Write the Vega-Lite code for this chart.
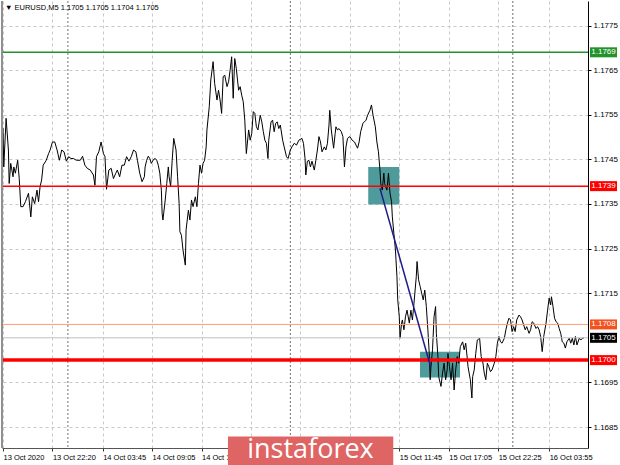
{
  "$schema": "https://vega.github.io/schema/vega-lite/v6.json",
  "width": 586,
  "height": 447,
  "autosize": {"type": "none"},
  "padding": {"left": 2, "top": 1, "right": 32, "bottom": 17},
  "background": "#ffffff",
  "config": {"view": {"stroke": null}},
  "datasets": {
    "price": [
      {"t":"2020-10-13 16:55","p":1.17523},{"t":"2020-10-13 17:00","p":1.17519},{"t":"2020-10-13 17:05","p":1.17433},{"t":"2020-10-13 17:20","p":1.17542},{"t":"2020-10-13 17:35","p":1.17471},{"t":"2020-10-13 17:40","p":1.17396},{"t":"2020-10-13 17:50","p":1.17441},{"t":"2020-10-13 18:05","p":1.17411},{"t":"2020-10-13 18:10","p":1.17433},{"t":"2020-10-13 18:20","p":1.17419},{"t":"2020-10-13 18:35","p":1.17448},{"t":"2020-10-13 18:45","p":1.17407},{"t":"2020-10-13 18:55","p":1.17344},{"t":"2020-10-13 19:10","p":1.17344},{"t":"2020-10-13 19:25","p":1.17355},{"t":"2020-10-13 19:45","p":1.17374},{"t":"2020-10-13 20:00","p":1.17321},{"t":"2020-10-13 20:10","p":1.17366},{"t":"2020-10-13 20:25","p":1.17351},{"t":"2020-10-13 20:40","p":1.17381},{"t":"2020-10-13 20:50","p":1.17355},{"t":"2020-10-13 21:00","p":1.17389},{"t":"2020-10-13 21:10","p":1.17404},{"t":"2020-10-13 21:20","p":1.17437},{"t":"2020-10-13 21:40","p":1.17448},{"t":"2020-10-13 21:55","p":1.17463},{"t":"2020-10-13 22:05","p":1.17471},{"t":"2020-10-13 22:20","p":1.17489},{"t":"2020-10-13 22:35","p":1.17489},{"t":"2020-10-13 22:50","p":1.17471},{"t":"2020-10-13 23:05","p":1.17448},{"t":"2020-10-13 23:20","p":1.17471},{"t":"2020-10-13 23:35","p":1.17467},{"t":"2020-10-13 23:50","p":1.17446},
      {"t":"2020-10-14 00:05","p":1.17456},{"t":"2020-10-14 00:20","p":1.17452},{"t":"2020-10-14 00:35","p":1.17452},{"t":"2020-10-14 00:55","p":1.17448},{"t":"2020-10-14 01:20","p":1.17448},{"t":"2020-10-14 01:35","p":1.17457},{"t":"2020-10-14 01:50","p":1.17437},{"t":"2020-10-14 02:05","p":1.1743},{"t":"2020-10-14 02:25","p":1.17426},{"t":"2020-10-14 02:45","p":1.17415},{"t":"2020-10-14 02:55","p":1.17392},{"t":"2020-10-14 03:05","p":1.17456},{"t":"2020-10-14 03:20","p":1.17467},{"t":"2020-10-14 03:35","p":1.17489},{"t":"2020-10-14 03:50","p":1.17463},{"t":"2020-10-14 04:00","p":1.17456},{"t":"2020-10-14 04:10","p":1.17383},{"t":"2020-10-14 04:25","p":1.17426},{"t":"2020-10-14 04:40","p":1.1743},{"t":"2020-10-14 04:55","p":1.17407},{"t":"2020-10-14 05:10","p":1.17419},{"t":"2020-10-14 05:20","p":1.17426},{"t":"2020-10-14 05:35","p":1.17411},{"t":"2020-10-14 05:50","p":1.17437},{"t":"2020-10-14 06:05","p":1.17437},{"t":"2020-10-14 06:20","p":1.17456},{"t":"2020-10-14 06:35","p":1.17446},{"t":"2020-10-14 06:50","p":1.17456},{"t":"2020-10-14 07:05","p":1.17471},{"t":"2020-10-14 07:20","p":1.17467},{"t":"2020-10-14 07:30","p":1.17448},{"t":"2020-10-14 07:45","p":1.17419},{"t":"2020-10-14 08:00","p":1.174},{"t":"2020-10-14 08:15","p":1.17411},{"t":"2020-10-14 08:20","p":1.17433},{"t":"2020-10-14 08:30","p":1.17448},{"t":"2020-10-14 08:40","p":1.17457},{"t":"2020-10-14 08:50","p":1.17452},{"t":"2020-10-14 09:00","p":1.17441},{"t":"2020-10-14 09:15","p":1.1745},{"t":"2020-10-14 09:25","p":1.17452},{"t":"2020-10-14 09:35","p":1.17448},{"t":"2020-10-14 09:45","p":1.17437},{"t":"2020-10-14 09:55","p":1.17419},{"t":"2020-10-14 10:05","p":1.17381},{"t":"2020-10-14 10:10","p":1.17329},{"t":"2020-10-14 10:15","p":1.17314},{"t":"2020-10-14 10:30","p":1.17359},{"t":"2020-10-14 10:40","p":1.17396},{"t":"2020-10-14 10:50","p":1.17433},{"t":"2020-10-14 10:55","p":1.17411},{"t":"2020-10-14 11:05","p":1.17389},{"t":"2020-10-14 11:15","p":1.17448},{"t":"2020-10-14 11:25","p":1.17497},{"t":"2020-10-14 11:40","p":1.17471},{"t":"2020-10-14 11:50","p":1.17411},{"t":"2020-10-14 12:00","p":1.17351},{"t":"2020-10-14 12:05","p":1.17288},{"t":"2020-10-14 12:15","p":1.1728},{"t":"2020-10-14 12:25","p":1.17247},{"t":"2020-10-14 12:40","p":1.17213},{"t":"2020-10-14 12:45","p":1.17292},{"t":"2020-10-14 13:00","p":1.17336},{"t":"2020-10-14 13:10","p":1.17314},{"t":"2020-10-14 13:20","p":1.17359},{"t":"2020-10-14 13:30","p":1.17344},{"t":"2020-10-14 13:45","p":1.17366},{"t":"2020-10-14 13:55","p":1.17344},{"t":"2020-10-14 14:05","p":1.17396},{"t":"2020-10-14 14:15","p":1.17437},{"t":"2020-10-14 14:25","p":1.17419},{"t":"2020-10-14 14:35","p":1.17441},{"t":"2020-10-14 14:45","p":1.17448},{"t":"2020-10-14 14:55","p":1.17478},{"t":"2020-10-14 15:00","p":1.17516},{"t":"2020-10-14 15:15","p":1.17568},{"t":"2020-10-14 15:25","p":1.17628},{"t":"2020-10-14 15:40","p":1.17669},{"t":"2020-10-14 15:50","p":1.1762},{"t":"2020-10-14 16:05","p":1.17583},{"t":"2020-10-14 16:15","p":1.17605},{"t":"2020-10-14 16:25","p":1.17583},{"t":"2020-10-14 16:35","p":1.17553},{"t":"2020-10-14 16:45","p":1.17635},{"t":"2020-10-14 16:55","p":1.17639},{"t":"2020-10-14 17:10","p":1.17613},{"t":"2020-10-14 17:20","p":1.17624},{"t":"2020-10-14 17:30","p":1.1765},{"t":"2020-10-14 17:40","p":1.1768},{"t":"2020-10-14 17:50","p":1.17587},{"t":"2020-10-14 18:00","p":1.17676},{"t":"2020-10-14 18:10","p":1.17654},{"t":"2020-10-14 18:25","p":1.17605},{"t":"2020-10-14 18:35","p":1.17613},{"t":"2020-10-14 18:45","p":1.17594},{"t":"2020-10-14 18:55","p":1.17579},{"t":"2020-10-14 19:05","p":1.17538},{"t":"2020-10-14 19:15","p":1.17463},{"t":"2020-10-14 19:30","p":1.17516},{"t":"2020-10-14 19:40","p":1.17493},{"t":"2020-10-14 19:50","p":1.17508},{"t":"2020-10-14 20:00","p":1.17557},{"t":"2020-10-14 20:10","p":1.17553},{"t":"2020-10-14 20:20","p":1.17523},{"t":"2020-10-14 20:30","p":1.17516},{"t":"2020-10-14 20:45","p":1.17549},{"t":"2020-10-14 20:55","p":1.17534},{"t":"2020-10-14 21:05","p":1.17512},{"t":"2020-10-14 21:15","p":1.17493},{"t":"2020-10-14 21:25","p":1.17486},{"t":"2020-10-14 21:35","p":1.17452},{"t":"2020-10-14 21:40","p":1.17493},{"t":"2020-10-14 21:55","p":1.17534},{"t":"2020-10-14 22:05","p":1.17538},{"t":"2020-10-14 22:15","p":1.17512},{"t":"2020-10-14 22:25","p":1.17531},{"t":"2020-10-14 22:35","p":1.17534},{"t":"2020-10-14 22:45","p":1.17519},{"t":"2020-10-14 22:55","p":1.17527},{"t":"2020-10-14 23:10","p":1.17493},{"t":"2020-10-14 23:20","p":1.17478},{"t":"2020-10-14 23:35","p":1.17456},{"t":"2020-10-14 23:45","p":1.17452},
      {"t":"2020-10-15 00:00","p":1.17471},{"t":"2020-10-15 00:10","p":1.17478},{"t":"2020-10-15 00:25","p":1.17486},{"t":"2020-10-15 00:40","p":1.17482},{"t":"2020-10-15 00:55","p":1.17493},{"t":"2020-10-15 01:15","p":1.17497},{"t":"2020-10-15 01:25","p":1.17486},{"t":"2020-10-15 01:35","p":1.17452},{"t":"2020-10-15 01:40","p":1.17415},{"t":"2020-10-15 01:50","p":1.17446},{"t":"2020-10-15 02:00","p":1.17448},{"t":"2020-10-15 02:10","p":1.17433},{"t":"2020-10-15 02:20","p":1.17446},{"t":"2020-10-15 02:35","p":1.17426},{"t":"2020-10-15 02:45","p":1.17448},{"t":"2020-10-15 02:55","p":1.17471},{"t":"2020-10-15 03:05","p":1.17501},{"t":"2020-10-15 03:15","p":1.17489},{"t":"2020-10-15 03:25","p":1.17467},{"t":"2020-10-15 03:40","p":1.17478},{"t":"2020-10-15 03:50","p":1.17471},{"t":"2020-10-15 04:00","p":1.17486},{"t":"2020-10-15 04:10","p":1.17527},{"t":"2020-10-15 04:15","p":1.1756},{"t":"2020-10-15 04:25","p":1.17516},{"t":"2020-10-15 04:40","p":1.17475},{"t":"2020-10-15 04:50","p":1.17508},{"t":"2020-10-15 04:55","p":1.17523},{"t":"2020-10-15 05:05","p":1.17516},{"t":"2020-10-15 05:15","p":1.17519},{"t":"2020-10-15 05:30","p":1.17512},{"t":"2020-10-15 05:40","p":1.17501},{"t":"2020-10-15 05:50","p":1.17433},{"t":"2020-10-15 06:00","p":1.17478},{"t":"2020-10-15 06:10","p":1.17497},{"t":"2020-10-15 06:25","p":1.17501},{"t":"2020-10-15 06:40","p":1.17493},{"t":"2020-10-15 06:55","p":1.17489},{"t":"2020-10-15 07:05","p":1.17482},{"t":"2020-10-15 07:15","p":1.17475},{"t":"2020-10-15 07:25","p":1.17489},{"t":"2020-10-15 07:35","p":1.17512},{"t":"2020-10-15 07:50","p":1.17531},{"t":"2020-10-15 08:10","p":1.17538},{"t":"2020-10-15 08:20","p":1.17549},{"t":"2020-10-15 08:35","p":1.1756},{"t":"2020-10-15 08:45","p":1.17572},{"t":"2020-10-15 08:55","p":1.17549},{"t":"2020-10-15 09:10","p":1.17523},{"t":"2020-10-15 09:20","p":1.17489},{"t":"2020-10-15 09:30","p":1.17467},{"t":"2020-10-15 09:40","p":1.17426},{"t":"2020-10-15 09:45","p":1.17396},{"t":"2020-10-15 09:55","p":1.17381},{"t":"2020-10-15 10:05","p":1.17419},{"t":"2020-10-15 10:10","p":1.17396},{"t":"2020-10-15 10:25","p":1.17381},{"t":"2020-10-15 10:35","p":1.17419},{"t":"2020-10-15 10:45","p":1.17374},{"t":"2020-10-15 10:55","p":1.17355},{"t":"2020-10-15 11:00","p":1.17321},{"t":"2020-10-15 11:10","p":1.17284},{"t":"2020-10-15 11:20","p":1.17247},{"t":"2020-10-15 11:30","p":1.17187},{"t":"2020-10-15 11:35","p":1.17135},{"t":"2020-10-15 11:45","p":1.17097},{"t":"2020-10-15 11:50","p":1.17049},{"t":"2020-10-15 12:00","p":1.17083},{"t":"2020-10-15 12:05","p":1.1709},{"t":"2020-10-15 12:15","p":1.17068},{"t":"2020-10-15 12:25","p":1.17097},{"t":"2020-10-15 12:35","p":1.17112},{"t":"2020-10-15 12:50","p":1.17083},{"t":"2020-10-15 13:00","p":1.17112},{"t":"2020-10-15 13:10","p":1.1709},{"t":"2020-10-15 13:20","p":1.17127},{"t":"2020-10-15 13:35","p":1.17187},{"t":"2020-10-15 13:40","p":1.17221},{"t":"2020-10-15 13:50","p":1.1718},{"t":"2020-10-15 14:00","p":1.17165},{"t":"2020-10-15 14:10","p":1.1715},{"t":"2020-10-15 14:20","p":1.17135},{"t":"2020-10-15 14:30","p":1.17157},{"t":"2020-10-15 14:40","p":1.1712},{"t":"2020-10-15 14:50","p":1.17068},{"t":"2020-10-15 15:00","p":1.17008},{"t":"2020-10-15 15:05","p":1.16956},{"t":"2020-10-15 15:10","p":1.16985},{"t":"2020-10-15 15:20","p":1.17023},{"t":"2020-10-15 15:30","p":1.17097},{"t":"2020-10-15 15:40","p":1.1712},{"t":"2020-10-15 15:45","p":1.1706},{"t":"2020-10-15 15:55","p":1.17008},{"t":"2020-10-15 16:00","p":1.16963},{"t":"2020-10-15 16:15","p":1.16941},{"t":"2020-10-15 16:25","p":1.16971},{"t":"2020-10-15 16:35","p":1.16993},{"t":"2020-10-15 16:45","p":1.16956},{"t":"2020-10-15 16:55","p":1.16978},{"t":"2020-10-15 17:00","p":1.17015},{"t":"2020-10-15 17:10","p":1.16985},{"t":"2020-10-15 17:20","p":1.16956},{"t":"2020-10-15 17:30","p":1.16993},{"t":"2020-10-15 17:40","p":1.16933},{"t":"2020-10-15 17:50","p":1.16978},{"t":"2020-10-15 18:00","p":1.17008},{"t":"2020-10-15 18:10","p":1.16993},{"t":"2020-10-15 18:20","p":1.1703},{"t":"2020-10-15 18:35","p":1.17041},{"t":"2020-10-15 18:45","p":1.17023},{"t":"2020-10-15 18:55","p":1.17038},{"t":"2020-10-15 19:05","p":1.17004},{"t":"2020-10-15 19:10","p":1.16985},{"t":"2020-10-15 19:25","p":1.16956},{"t":"2020-10-15 19:35","p":1.16915},{"t":"2020-10-15 19:40","p":1.16963},{"t":"2020-10-15 19:50","p":1.16978},{"t":"2020-10-15 20:00","p":1.17015},{"t":"2020-10-15 20:10","p":1.17045},{"t":"2020-10-15 20:25","p":1.17049},{"t":"2020-10-15 20:35","p":1.17008},{"t":"2020-10-15 20:45","p":1.16997},{"t":"2020-10-15 20:55","p":1.16971},{"t":"2020-10-15 21:05","p":1.16956},{"t":"2020-10-15 21:15","p":1.16993},{"t":"2020-10-15 21:25","p":1.16985},{"t":"2020-10-15 21:35","p":1.16974},{"t":"2020-10-15 21:45","p":1.16978},{"t":"2020-10-15 22:00","p":1.16993},{"t":"2020-10-15 22:10","p":1.17008},{"t":"2020-10-15 22:20","p":1.17038},{"t":"2020-10-15 22:30","p":1.17053},{"t":"2020-10-15 22:40","p":1.17041},{"t":"2020-10-15 22:50","p":1.17038},{"t":"2020-10-15 23:05","p":1.17049},{"t":"2020-10-15 23:15","p":1.17068},{"t":"2020-10-15 23:25","p":1.17083},{"t":"2020-10-15 23:35","p":1.17094},{"t":"2020-10-15 23:45","p":1.1709},{"t":"2020-10-15 23:55","p":1.17064},
      {"t":"2020-10-16 00:05","p":1.17075},{"t":"2020-10-16 00:15","p":1.17064},{"t":"2020-10-16 00:25","p":1.1709},{"t":"2020-10-16 00:40","p":1.17101},{"t":"2020-10-16 00:50","p":1.17097},{"t":"2020-10-16 01:00","p":1.1709},{"t":"2020-10-16 01:10","p":1.17079},{"t":"2020-10-16 01:20","p":1.17068},{"t":"2020-10-16 01:30","p":1.17075},{"t":"2020-10-16 01:45","p":1.1706},{"t":"2020-10-16 01:55","p":1.17068},{"t":"2020-10-16 02:05","p":1.17086},{"t":"2020-10-16 02:15","p":1.17083},{"t":"2020-10-16 02:30","p":1.17071},{"t":"2020-10-16 02:40","p":1.17075},{"t":"2020-10-16 02:50","p":1.17068},{"t":"2020-10-16 03:00","p":1.17053},{"t":"2020-10-16 03:10","p":1.17019},{"t":"2020-10-16 03:20","p":1.17053},{"t":"2020-10-16 03:35","p":1.17083},{"t":"2020-10-16 03:45","p":1.17112},{"t":"2020-10-16 03:55","p":1.17139},{"t":"2020-10-16 04:05","p":1.17124},{"t":"2020-10-16 04:10","p":1.17142},{"t":"2020-10-16 04:20","p":1.1712},{"t":"2020-10-16 04:30","p":1.17094},{"t":"2020-10-16 04:40","p":1.17086},{"t":"2020-10-16 04:50","p":1.17083},{"t":"2020-10-16 05:00","p":1.17071},{"t":"2020-10-16 05:10","p":1.1706},{"t":"2020-10-16 05:20","p":1.17041},{"t":"2020-10-16 05:30","p":1.17038},{"t":"2020-10-16 05:40","p":1.17027},{"t":"2020-10-16 05:50","p":1.17041},{"t":"2020-10-16 06:05","p":1.17049},{"t":"2020-10-16 06:15","p":1.17038},{"t":"2020-10-16 06:25","p":1.17049},{"t":"2020-10-16 06:35","p":1.17034},{"t":"2020-10-16 06:45","p":1.17053},{"t":"2020-10-16 06:55","p":1.17034},{"t":"2020-10-16 07:10","p":1.17049},{"t":"2020-10-16 07:20","p":1.17045},{"t":"2020-10-16 07:30","p":1.17049},{"t":"2020-10-16 07:40","p":1.1705}
    ],
    "boxes": [
      {"start":"2020-10-15 08:24","end":"2020-10-15 11:45","top":1.17433,"bottom":1.17349},
      {"start":"2020-10-15 13:59","end":"2020-10-15 18:18","top":1.17019,"bottom":1.16961}
    ],
    "trend": [
      {"t":"2020-10-15 09:40","p":1.17385},
      {"t":"2020-10-15 15:08","p":1.16985}
    ],
    "separators": [
      {"t":"2020-10-14 00:00"},{"t":"2020-10-15 00:00"},{"t":"2020-10-16 00:00"}
    ],
    "tags": [
      {"p":1.1769,"label":"1.1769","kind":"resistance"},
      {"p":1.1739,"label":"1.1739","kind":"entry"},
      {"p":1.1708,"label":"1.1708","kind":"target"},
      {"p":1.1705,"label":"1.1705","kind":"bid"},
      {"p":1.17,"label":"1.1700","kind":"support"}
    ]
  },
  "layer": [
    {
      "data": {"name": "boxes"},
      "mark": {"type": "rect", "color": "#4f9a9a"},
      "encoding": {
        "x": {"field": "start", "type": "temporal"},
        "x2": {"field": "end"},
        "y": {"field": "top", "type": "quantitative"},
        "y2": {"field": "bottom"}
      }
    },
    {
      "data": {"name": "separators"},
      "mark": {"type": "rule", "color": "#707070", "strokeWidth": 1, "strokeDash": [2, 2]},
      "encoding": {"x": {"field": "t", "type": "temporal"}}
    },
    {
      "data": {"name": "price"},
      "mark": {"type": "line", "color": "#000000", "strokeWidth": 1},
      "encoding": {
        "x": {
          "field": "t", "type": "temporal",
          "scale": {"domain": [{"year": 2020, "month": 10, "date": 13, "hours": 16, "minutes": 53, "seconds": 30}, {"year": 2020, "month": 10, "date": 16, "hours": 8, "minutes": 6, "seconds": 30}]},
          "axis": {
            "title": null,
            "values": [
              {"year": 2020, "month": 10, "date": 13, "hours": 17, "minutes": 0, "seconds": 0},
              {"year": 2020, "month": 10, "date": 13, "hours": 19, "minutes": 40, "seconds": 30},
              {"year": 2020, "month": 10, "date": 13, "hours": 22, "minutes": 20, "seconds": 0},
              {"year": 2020, "month": 10, "date": 14, "hours": 1, "minutes": 2, "seconds": 30},
              {"year": 2020, "month": 10, "date": 14, "hours": 3, "minutes": 45, "seconds": 0},
              {"year": 2020, "month": 10, "date": 14, "hours": 6, "minutes": 25, "seconds": 30},
              {"year": 2020, "month": 10, "date": 14, "hours": 9, "minutes": 5, "seconds": 0},
              {"year": 2020, "month": 10, "date": 14, "hours": 11, "minutes": 45, "seconds": 30},
              {"year": 2020, "month": 10, "date": 14, "hours": 14, "minutes": 25, "seconds": 0},
              {"year": 2020, "month": 10, "date": 14, "hours": 17, "minutes": 5, "seconds": 30},
              {"year": 2020, "month": 10, "date": 14, "hours": 19, "minutes": 45, "seconds": 15},
              {"year": 2020, "month": 10, "date": 14, "hours": 22, "minutes": 25, "seconds": 30},
              {"year": 2020, "month": 10, "date": 15, "hours": 1, "minutes": 5, "seconds": 15},
              {"year": 2020, "month": 10, "date": 15, "hours": 3, "minutes": 45, "seconds": 30},
              {"year": 2020, "month": 10, "date": 15, "hours": 6, "minutes": 25, "seconds": 15},
              {"year": 2020, "month": 10, "date": 15, "hours": 9, "minutes": 5, "seconds": 30},
              {"year": 2020, "month": 10, "date": 15, "hours": 11, "minutes": 45, "seconds": 0},
              {"year": 2020, "month": 10, "date": 15, "hours": 14, "minutes": 25, "seconds": 30},
              {"year": 2020, "month": 10, "date": 15, "hours": 17, "minutes": 5, "seconds": 0},
              {"year": 2020, "month": 10, "date": 15, "hours": 19, "minutes": 45, "seconds": 30},
              {"year": 2020, "month": 10, "date": 15, "hours": 22, "minutes": 25, "seconds": 0},
              {"year": 2020, "month": 10, "date": 16, "hours": 1, "minutes": 10, "seconds": 30},
              {"year": 2020, "month": 10, "date": 16, "hours": 3, "minutes": 55, "seconds": 0},
              {"year": 2020, "month": 10, "date": 16, "hours": 6, "minutes": 35, "seconds": 30}
            ],
            "labelExpr": "seconds(datum.value) != 0 ? '' : ((date(datum.value) == 13 && hours(datum.value) == 17) ? '13 Oct 2020' : timeFormat(datum.value, '%d %b %H:%M'))",
            "labelAlign": "left", "labelBaseline": "top", "labelPadding": 2,
            "labelFont": "Liberation Sans", "labelFontSize": 7.5, "labelColor": "#000000",
            "labelOverlap": false, "labelFlush": false,
            "tickSize": 3, "tickColor": "#333333",
            "tickOpacity": {"condition": {"test": "seconds(datum.value) == 30", "value": 0}, "value": 1},
            "domainColor": "#555555",
            "grid": true, "gridColor": "#c8c8c8", "gridDash": [3, 3]
          }
        },
        "y": {
          "field": "p", "type": "quantitative",
          "scale": {"domain": [1.16803, 1.17805], "nice": false, "zero": false},
          "axis": {
            "orient": "right", "title": null,
            "values": [1.1685, 1.1695, 1.1715, 1.1725, 1.1735, 1.1745, 1.1755, 1.1765, 1.1775],
            "format": ".4f",
            "labelFont": "Liberation Sans", "labelFontSize": 8, "labelColor": "#000000", "labelPadding": 2,
            "tickSize": 3, "tickColor": "#000000", "domainColor": "#000000",
            "grid": true, "gridColor": "#c8c8c8", "gridDash": [3, 3]
          }
        }
      }
    },
    {
      "data": {"values": [{"p": 1.1705}]},
      "mark": {"type": "rule", "color": "#c0c0c0", "strokeWidth": 1},
      "encoding": {"y": {"field": "p", "type": "quantitative"}}
    },
    {
      "data": {"values": [{"p": 1.1708}]},
      "mark": {"type": "rule", "color": "#ff9d70", "strokeWidth": 1},
      "encoding": {"y": {"field": "p", "type": "quantitative"}}
    },
    {
      "data": {"values": [{"p": 1.1769}]},
      "mark": {"type": "rule", "color": "#22922a", "strokeWidth": 1.5},
      "encoding": {"y": {"field": "p", "type": "quantitative"}}
    },
    {
      "data": {"values": [{"p": 1.1739}]},
      "mark": {"type": "rule", "color": "#ff0000", "strokeWidth": 1.5},
      "encoding": {"y": {"field": "p", "type": "quantitative"}}
    },
    {
      "data": {"values": [{"p": 1.17}]},
      "mark": {"type": "rule", "color": "#ff0000", "strokeWidth": 3.5},
      "encoding": {"y": {"field": "p", "type": "quantitative"}}
    },
    {
      "data": {"name": "trend"},
      "mark": {"type": "line", "color": "#1c1c8a", "strokeWidth": 1.5},
      "encoding": {
        "x": {"field": "t", "type": "temporal"},
        "y": {"field": "p", "type": "quantitative"}
      }
    },
    {
      "data": {"values": [{"p": 1.17805}, {"p": 1.16803}]},
      "mark": {"type": "line", "color": "#909090", "strokeWidth": 2},
      "encoding": {
        "x": {"datum": {"year": 2020, "month": 10, "date": 13, "hours": 16, "minutes": 53, "seconds": 30}, "type": "temporal"},
        "y": {"field": "p", "type": "quantitative"}
      }
    },
    {
      "data": {"values": [{"label": "▼ EURUSD,M5 1.1705 1.1705 1.1704 1.1705"}]},
      "mark": {"type": "text", "color": "#000000", "font": "Liberation Sans", "fontSize": 7.5, "align": "left", "baseline": "middle", "dx": 3, "dy": 7, "clip": false},
      "encoding": {
        "x": {"datum": {"year": 2020, "month": 10, "date": 13, "hours": 16, "minutes": 53, "seconds": 30}, "type": "temporal"},
        "y": {"datum": 1.17805, "type": "quantitative"},
        "text": {"field": "label"}
      }
    },
    {
      "data": {"name": "tags"},
      "mark": {"type": "rect", "width": 27, "height": 10, "clip": false},
      "encoding": {
        "x": {"datum": {"year": 2020, "month": 10, "date": 16, "hours": 9, "minutes": 47}, "type": "temporal"},
        "y": {"field": "p", "type": "quantitative"},
        "color": {"field": "kind", "type": "nominal", "legend": null,
          "scale": {"domain": ["resistance", "entry", "target", "bid", "support"], "range": ["#22922a", "#ff0000", "#f4511e", "#000000", "#ff0000"]}}
      }
    },
    {
      "data": {"name": "tags"},
      "mark": {"type": "text", "color": "#ffffff", "font": "Liberation Sans", "fontSize": 8, "align": "center", "baseline": "middle", "clip": false},
      "encoding": {
        "x": {"datum": {"year": 2020, "month": 10, "date": 16, "hours": 9, "minutes": 47}, "type": "temporal"},
        "y": {"field": "p", "type": "quantitative"},
        "text": {"field": "label"}
      }
    },
    {
      "data": {"values": [{"start": "2020-10-14 17:16", "end": "2020-10-15 11:06", "top": 1.16829, "bottom": 1.1676}]},
      "mark": {"type": "rect", "color": "#df6464", "clip": false},
      "encoding": {
        "x": {"field": "start", "type": "temporal"},
        "x2": {"field": "end"},
        "y": {"field": "top", "type": "quantitative"},
        "y2": {"field": "bottom"}
      }
    },
    {
      "data": {"values": [{"t": "2020-10-15 02:10", "p": 1.16799, "label": "instaforex"}]},
      "mark": {"type": "text", "color": "#ffffff", "font": "Open Sans", "fontSize": 27, "align": "center", "baseline": "middle", "clip": false},
      "encoding": {
        "x": {"field": "t", "type": "temporal"},
        "y": {"field": "p", "type": "quantitative"},
        "text": {"field": "label"}
      }
    }
  ]
}
